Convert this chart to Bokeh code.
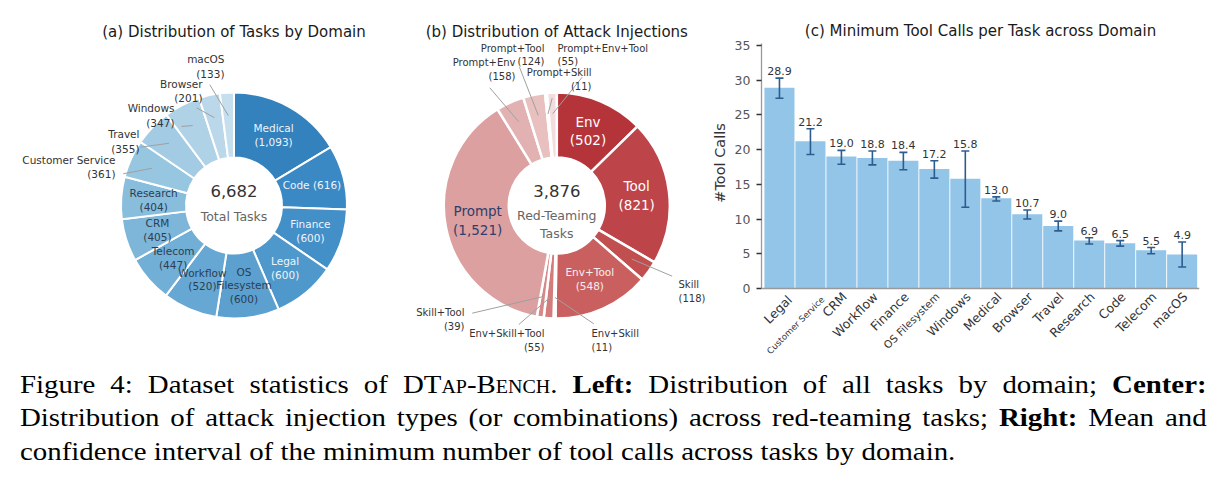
import math
from bokeh.plotting import figure
from bokeh.models import Range1d, ColumnDataSource, Whisker, TeeHead, Div, FixedTicker, Span
from bokeh.layouts import row, column
from bokeh.embed import file_html
from bokeh.resources import INLINE
from bokeh.core.properties import value

FONT = "DejaVu Sans"

# ---------------- data ----------------
# (a) tasks by domain
domain_names = ["Medical", "Code", "Finance", "Legal", "OS Filesystem", "Workflow", "Telecom",
                "CRM", "Research", "Customer Service", "Travel", "Windows", "Browser", "macOS"]
domain_counts = [1093, 616, 600, 600, 600, 520, 447, 405, 404, 361, 355, 347, 201, 133]
domain_total = 6682

# (b) attack injections
attack_names = ["Env", "Tool", "Skill", "Env+Tool", "Env+Skill", "Env+Skill+Tool", "Skill+Tool",
                "Prompt", "Prompt+Env", "Prompt+Tool", "Prompt+Skill", "Prompt+Env+Tool"]
attack_counts = [502, 821, 118, 548, 11, 55, 39, 1521, 158, 124, 11, 55]
attack_total = 3876

# (c) minimum tool calls
bar_domains = ["Legal", "Customer Service", "CRM", "Workflow", "Finance", "OS Filesystem", "Windows",
               "Medical", "Browser", "Travel", "Research", "Code", "Telecom", "macOS"]
bar_means = [28.9, 21.2, 19.0, 18.8, 18.4, 17.2, 15.8, 13.0, 10.7, 9.0, 6.9, 6.5, 5.5, 4.9]
bar_ci_low = [27.4, 19.3, 17.9, 17.8, 17.1, 15.9, 11.7, 12.6, 10.0, 8.3, 6.4, 6.1, 5.0, 3.1]
bar_ci_high = [30.3, 23.0, 19.9, 19.8, 19.6, 18.4, 19.8, 13.2, 11.3, 9.7, 7.3, 6.9, 5.9, 6.7]
y_ticks = [0, 5, 10, 15, 20, 25, 30, 35]
y_label = "#Tool Calls"

# ---------------- style ----------------
blues = ["#3381bd", "#3a89c4", "#438fc8", "#4f98cb", "#5ba0cf", "#66a8d3", "#71afd6",
         "#7db6d9", "#88bddc", "#97c6e1", "#a3cce4", "#afd2e7", "#bad8ea", "#c6dfef"]
reds = ["#b5343a", "#bd4448", "#c24f50", "#c9605f", "#d07272", "#d47c7c", "#d88888",
        "#dca0a0", "#e2b1b1", "#e8c0c0", "#efd3d4", "#f3dcdd"]
tick_font_sizes = {"Customer Service": "8.7px", "OS Filesystem": "10.5px"}
TICK_FONT_DEFAULT = "12.5px"
# anchor shift of the rotated tick labels (x in categories, y in value units)
tick_shift = {"Legal": (0.33, -1.3), "Customer Service": (0.4, -1.37)}
TICK_SHIFT_DEFAULT = (0.1, -0.87)
TITLE_SIZE = "15px"

R_IN, R_OUT, R_LAB = 48, 113, 80.5
PANEL_H = 360


def donut_angles(counts):
    tot = float(sum(counts))
    s, e, m = [], [], []
    c = 0
    for v in counts:
        a0 = math.pi / 2 - 2 * math.pi * c / tot
        c += v
        a1 = math.pi / 2 - 2 * math.pi * c / tot
        s.append(a0); e.append(a1); m.append((a0 + a1) / 2)
    return s, e, m


def blank_fig(w, h):
    p = figure(width=w, height=h, x_range=Range1d(0, w), y_range=Range1d(0, h),
               output_backend="svg", toolbar_location=None, min_border=0,
               x_axis_location=None, y_axis_location=None, title=None)
    p.xgrid.visible = False
    p.ygrid.visible = False
    p.outline_line_color = None
    p.background_fill_color = "white"
    p.border_fill_color = "white"
    return p


def label_text(name, count, inline=False):
    sep = " " if inline else "\n"
    return name + sep + "({:,})".format(count)


def draw_donut(p, cx, cy, counts, colors, edge_w):
    s, e, m = donut_angles(counts)
    src = ColumnDataSource(dict(start=s, end=e, color=colors))
    p.annular_wedge(x=cx, y=cy, inner_radius=R_IN, outer_radius=R_OUT,
                    start_angle="start", end_angle="end", direction="clock",
                    fill_color="color", line_color="white", line_width=edge_w, source=src)
    return m


def inner_labels(p, cx, cy, mids, idx, texts, colors, size):
    xs = [cx + R_LAB * math.cos(mids[i]) for i in idx]
    ys = [cy + R_LAB * math.sin(mids[i]) for i in idx]
    src = ColumnDataSource(dict(x=xs, y=ys, t=texts, c=colors))
    p.text(x="x", y="y", text="t", text_color="c", text_font_size=size,
           text_align="center", text_baseline="middle", text_font=value(FONT),
           text_line_height=1.15, source=src)


def outer_labels(p, cx, cy, mids, idx, texts, anchors, aligns, starts, r_end, size):
    x1 = [cx + r_end * math.cos(mids[i]) for i in idx]
    y1 = [cy + r_end * math.sin(mids[i]) for i in idx]
    p.segment(x0=[s[0] for s in starts], y0=[s[1] for s in starts], x1=x1, y1=y1,
              line_color="#a0a0a0", line_width=1)
    for al in ("left", "right"):
        sel = [k for k in range(len(idx)) if aligns[k] == al]
        if not sel:
            continue
        src = ColumnDataSource(dict(x=[anchors[k][0] for k in sel], y=[anchors[k][1] for k in sel],
                                    t=[texts[k] for k in sel]))
        p.text(x="x", y="y", text="t", text_align=al, text_baseline="middle",
               text_font_size=size, text_color="#333333", text_font=value(FONT),
               text_line_height=1.2, source=src)


def center_text(p, cx, big, small, y_big, y_small):
    p.text(x=[cx], y=[y_big], text=[big], text_align="center", text_baseline="middle",
           text_font_size="16.5px", text_color="#333333", text_font=value(FONT))
    p.text(x=[cx], y=[y_small], text=[small], text_align="center", text_baseline="middle",
           text_font_size="12.5px", text_color="#666666", text_font=value(FONT),
           text_line_height=1.2)


def panel_title(p, x, y, txt):
    p.text(x=[x], y=[y], text=[txt], text_align="center", text_baseline="middle",
           text_font_size=TITLE_SIZE, text_color="#1a1a1a", text_font=value(FONT))


# ---------------- panel (a) ----------------
p1 = blank_fig(410, PANEL_H)
cxa, cya = 233.5, 155
mids_a = draw_donut(p1, cxa, cya, domain_counts, blues, 2)
a_in = list(range(9))
a_in_txt = [label_text(domain_names[i].replace("OS ", "OS\n"), domain_counts[i], domain_names[i] == "Code")
            for i in a_in]
a_in_col = ["#eef4fa"] * 4 + ["#2c3e55"] * 5
inner_labels(p1, cxa, cya, mids_a, a_in, a_in_txt, a_in_col, "10.5px")
a_out = [9, 10, 11, 12, 13]
a_out_txt = [label_text(domain_names[i], domain_counts[i]) for i in a_out]
a_anchor = [(115, 193.5), (139, 219), (174, 245), (202, 269.5), (224, 294)]
a_start = [(122.7, 186.7), (140, 213.3), (181, 234), (196, 252.7), (209.3, 275.7)]
outer_labels(p1, cxa, cya, mids_a, a_out, a_out_txt, a_anchor, ["right"] * 5, a_start, 90, "10.5px")
center_text(p1, cxa, "{:,}".format(domain_total), "Total Tasks", 170, 144)
panel_title(p1, cxa, PANEL_H - 31, "(a) Distribution of Tasks by Domain")

# ---------------- panel (b) ----------------
p2 = blank_fig(316, PANEL_H)
cxb, cyb = 146.3, 155
mids_b = draw_donut(p2, cxb, cyb, attack_counts, reds, 2.5)
b_big = [0, 1, 7]
inner_labels(p2, cxb, cyb, mids_b, b_big, [label_text(attack_names[i], attack_counts[i]) for i in b_big],
             ["#ffffff", "#ffffff", "#2d3f6c"], "13.5px")
b_small = [3]
inner_labels(p2, cxb, cyb, mids_b, b_small, [label_text(attack_names[i], attack_counts[i]) for i in b_small],
             ["#f7eeee"], "10.5px")
b_out = [2, 6, 5, 4, 8, 9, 10, 11]
b_out_txt = [label_text(attack_names[i], attack_counts[i]) for i in b_out]
b_anchor = [(268, 69), (54, 41), (134, 20), (181, 20), (105, 291), (134, 305.5), (181, 281), (147, 305.5)]
b_align = ["left", "right", "right", "left", "right", "right", "right", "left"]
b_start = [(261.7, 84.3), (61.7, 47.3), (108.3, 36), (183.3, 36.7), (79.3, 272.7), (109, 293.3),
           (141.7, 262.3), (171.7, 283.3)]
outer_labels(p2, cxb, cyb, mids_b, b_out, b_out_txt, b_anchor, b_align, b_start, 92, "10px")
center_text(p2, cxb, "{:,}".format(attack_total), "Red-Teaming\nTasks", 170, 136)
panel_title(p2, cxb, PANEL_H - 31, "(b) Distribution of Attack Injections")

# y-axis title of panel (c): sits just left of that panel's tick labels
p2.text(x=[309], y=[PANEL_H - 162.5], text=[y_label], angle=math.pi / 2, text_align="center",
        text_baseline="middle", text_font_size="14.5px", text_color="#333333", text_font=value(FONT))

# ---------------- panel (c) ----------------
n = len(bar_domains)
xs = list(range(n))
PX = 6.943                      # pixels per unit on the y scale
Y_LO = -(PANEL_H - 288) / PX    # zero line sits 72 px above the bottom
Y_HI = 35 + 45 / PX
X_LO, X_HI = -0.58, n - 0.44
p3 = figure(width=500, height=PANEL_H, x_range=Range1d(X_LO, X_HI), y_range=Range1d(Y_LO, Y_HI),
            output_backend="svg", toolbar_location=None, title=None, x_axis_location=None,
            min_border_left=35, min_border_right=27, min_border_top=0, min_border_bottom=0)
p3.xgrid.visible = False
p3.ygrid.visible = False
p3.outline_line_color = None
p3.background_fill_color = "white"
p3.border_fill_color = "white"

src = ColumnDataSource(dict(
    x=xs, mean=bar_means, low=bar_ci_low, high=bar_ci_high,
    lab=["{:.1f}".format(v) for v in bar_means],
))
p3.vbar(x="x", top="mean", bottom=0, width=0.97, fill_color="#92c5e8", line_color=None, source=src)

ERR = "#2d5c8f"
wh = Whisker(source=src, base="x", upper="high", lower="low", line_color=ERR, line_width=1.6,
             upper_head=TeeHead(size=8, line_color=ERR, line_width=1.6),
             lower_head=TeeHead(size=8, line_color=ERR, line_width=1.6), level="annotation")
p3.add_layout(wh)

p3.text(x="x", y="high", text="lab", text_align="center", text_baseline="bottom", y_offset=-3,
        text_font_size="11px", text_color="#333333", text_font=value(FONT), source=src)

# x axis line at zero
p3.add_layout(Span(location=0, dimension="width", line_color="#999999", line_width=1.3))

# rotated category labels (long names are printed smaller)
for size in (TICK_FONT_DEFAULT, "10.5px", "8.7px"):
    sel = [i for i, d in enumerate(bar_domains) if tick_font_sizes.get(d, TICK_FONT_DEFAULT) == size]
    sh = [tick_shift.get(bar_domains[i], TICK_SHIFT_DEFAULT) for i in sel]
    tsrc = ColumnDataSource(dict(x=[xs[i] + s[0] for i, s in zip(sel, sh)], y=[s[1] for s in sh],
                                 t=[bar_domains[i] for i in sel]))
    p3.text(x="x", y="y", text="t", angle=math.pi / 4, text_align="right", text_baseline="middle",
            text_font_size=size, text_color="#333333", text_font=value(FONT), source=tsrc)

p3.yaxis.ticker = FixedTicker(ticks=y_ticks)
p3.yaxis.bounds = (0, 35.33)
p3.yaxis.minor_tick_line_color = None
p3.yaxis.major_tick_in = 0
p3.yaxis.major_tick_out = 5
p3.yaxis.major_tick_line_color = "#333333"
p3.yaxis.major_tick_line_width = 1.3
p3.yaxis.axis_line_color = "#999999"
p3.yaxis.axis_line_width = 1.3
p3.yaxis.major_label_text_font = FONT
p3.yaxis.major_label_text_font_size = "12.5px"
p3.yaxis.major_label_text_color = "#555555"
p3.yaxis.major_label_standoff = 6

panel_title(p3, (X_LO + X_HI) / 2.0, 35 + (45 - 31) / PX, "(c) Minimum Tool Calls per Task across Domain")

# ---------------- caption ----------------
caption = (
    '<div style="font-family:\'Liberation Serif\',\'Times New Roman\',serif;font-size:26px;'
    'line-height:33.5px;color:#000;padding:7.5px 0 0 0;margin-left:20px;width:1069px;'
    'transform:scaleX(1.11);transform-origin:0 0;">'
    '<div style="text-align:justify;text-align-last:justify;white-space:nowrap;">Figure 4: Dataset statistics of '
    'D<span style="font-variant:small-caps">Tap-Bench</span>. <b>Left:</b> Distribution of all tasks '
    'by domain; <b>Center:</b></div>'
    '<div style="text-align:justify;text-align-last:justify;white-space:nowrap;">Distribution of attack injection types '
    '(or combinations) across red-teaming tasks; <b>Right:</b> Mean and</div>'
    '<div style="white-space:nowrap;">confidence interval of the minimum number of tool calls across tasks by domain.</div>'
    '</div>'
)
div = Div(text=caption, width=1226, height=128, margin=(0, 0, 0, 0))

layout = column(row(p1, p2, p3), div)
open("out.html", "w").write(file_html(layout, INLINE))
